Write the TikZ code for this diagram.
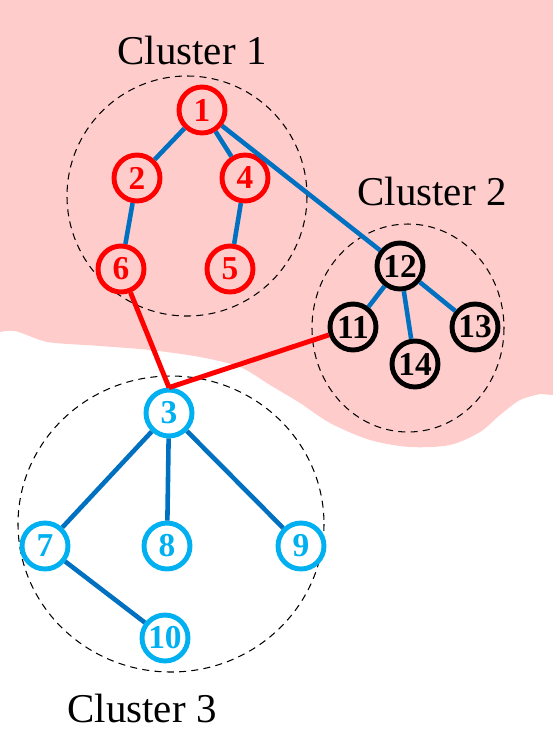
\documentclass[tikz,border=0pt]{standalone}
\usepackage{fontspec}
\setmainfont{Liberation Serif}
\definecolor{pinkbg}{RGB}{255,204,204}
\definecolor{edgeblue}{RGB}{0,112,192}
\definecolor{nodecyan}{RGB}{0,176,240}

\begin{document}
\begin{tikzpicture}[x=0.02cm, y=-0.02cm,
	vert/.style={circle, draw, line width=2.8pt, minimum size=0.92cm, inner sep=0pt, font=\fontsize{19}{19}\selectfont\bfseries},
	redv/.style={vert, draw=red, text=red},
	blackv/.style={vert, draw=black, text=black},
	cyanv/.style={vert, draw=nodecyan, text=nodecyan, fill=white},
	blueedge/.style={draw=edgeblue, line width=2.6pt},
	rededge/.style={draw=red, line width=2.8pt},
	cluster/.style={draw=black, line width=0.6pt, dash pattern=on 4pt off 3pt},
	label/.style={anchor=base, font=\fontsize{23.3}{23.3}\selectfont}]
			\useasboundingbox (0,0) rectangle (553,735);
			\fill[pinkbg] (0,0) -- (553,0) -- (553,395) -- plot[smooth] coordinates {(540,394) (520,400) (500,415) (480,432) (450,445) (410,447) (370,440) (330,423) (300,403) (270,385) (240,367) (200,357) (150,350) (100,346) (55,343) (40,340) (15,331) (0,332)} -- cycle;
			
			\draw[cluster] (187,196) circle [radius=120];
			\draw[cluster] (408,328) ellipse [x radius=96, y radius=104];
			\draw[cluster] (171,524) ellipse [x radius=153, y radius=148];
			
			\node[label] (text1) at (192,64){Cluster 1};
			\node[label] (text2) at (432,205){Cluster 2};
			\node[label] (text3) at (142,722){Cluster 3};
			
			\node[redv] (n1) at (202,110){1};
			\node[redv] (n2) at (137,178){2};
			\node[redv] (n4) at (245,178){4};
			\node[redv] (n6) at (121,269){6};
			\node[redv] (n5) at (230,269){5};
			\node[blackv] (n12) at (400,266){12};
			\node[blackv] (n11) at (353,327){11};
			\node[blackv] (n13) at (475,327){13};
			\node[blackv] (n14) at (415,364){14};
			\node[cyanv] (n3) at (169,413){3};
			\node[cyanv] (n7) at (45,546){7};
			\node[cyanv] (n8) at (167,546){8};
			\node[cyanv] (n9) at (301,546){9};
			\node[cyanv] (n10) at (165,638){10};
			
			\path[blueedge] (n1) edge (n2);
			\path[blueedge] (n1) edge (n4);
			\path[blueedge] (n2) edge (n6);
			\path[blueedge] (n4) edge (n5);
			\path[blueedge] (n1) edge (n12);
			\path[blueedge] (n12) edge (n11);
			\path[blueedge] (n12) edge (n14);
			\path[blueedge] (n12) edge (n13);
			\path[blueedge] (n3) edge (n7);
			\path[blueedge] (n3) edge (n8);
			\path[blueedge] (n3) edge (n9);
			\path[blueedge] (n7) edge (n10);
			\path[rededge] (n6) edge (n3.north);
			\path[rededge] (n11) edge (n3.north);
			\end{tikzpicture}
\end{document}
